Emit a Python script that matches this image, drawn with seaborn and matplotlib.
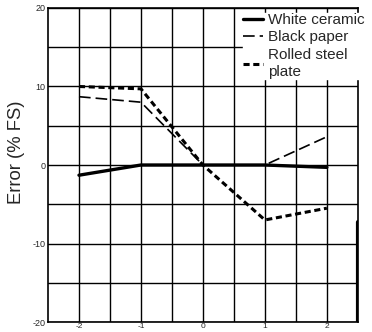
import matplotlib
matplotlib.use("Agg")
import matplotlib.pyplot as plt
import seaborn as sns
import pandas as pd

x_vals = [-2, -1, 0, 1, 2]
white_ceramic = [-1.3, 0.0, 0.0, 0.0, -0.3]
black_paper = [8.7, 8.0, 0.0, 0.0, 3.6]
rolled_steel = [10.0, 9.7, 0.0, -7.0, -5.5]
series_names = ["White ceramic", "Black paper", "Rolled steel\nplate"]
x_ticks = [-2, -1, 0, 1, 2]
y_ticks = [-20, -10, 0, 10, 20]

sns.set_theme(style="white")
plt.rcParams['font.family'] = ['Liberation Sans', 'DejaVu Sans']

fig = plt.figure(figsize=(3.72, 3.32), dpi=100)
ax = fig.add_axes([0.129, 0.030, 0.833, 0.946])

styles = [
    dict(linewidth=2.4, linestyle="-"),
    dict(linewidth=1.2, linestyle=(0, (7, 3))),
    dict(linewidth=2.2, linestyle=(0, (2, 1.2))),
]
for name, vals, st in zip(series_names, [white_ceramic, black_paper, rolled_steel], styles):
    df = pd.DataFrame({"x": x_vals, "y": vals})
    sns.lineplot(data=df, x="x", y="y", ax=ax, color="black", label=name, **st)

ax.set_xlim(-2.5, 2.5)
ax.set_ylim(-20, 20)
ax.set_xticks(x_ticks)
ax.set_yticks(y_ticks)
ax.set_xticks([-1.5, -0.5, 0.5, 1.5], minor=True)
ax.set_yticks([-15, -5, 5, 15], minor=True)
ax.grid(True, which="both", color="black", linewidth=1.0)
ax.set_xticklabels([str(v) for v in x_ticks], fontsize=6)
ax.set_yticklabels([str(v) for v in y_ticks], fontsize=6.5)
ax.tick_params(axis="x", which="both", length=0, pad=1)
ax.tick_params(axis="y", which="both", length=0, pad=2)
ax.set_xlabel("")
ax.set_ylabel("Error (% FS)", fontsize=13.3)
ax.yaxis.set_label_coords(-0.074, 0.541)
for s in ax.spines.values():
    s.set_color("black")
    s.set_linewidth(1.2)
ax.axvline(2.5, ymin=0, ymax=0.32, color="black", linewidth=3)

leg = ax.legend(loc="upper left", bbox_to_anchor=(243 / 372, 1 - 13 / 332),
                bbox_transform=fig.transFigure, frameon=True, fontsize=11,
                handlelength=1.3, handletextpad=0.35, borderaxespad=0,
                labelspacing=0.22, borderpad=0.0)
for t in leg.get_texts():
    t.set_linespacing(1.3)
leg.get_frame().set_edgecolor("white")
leg.get_frame().set_facecolor("white")
leg.get_frame().set_alpha(1)

fig.savefig("out.png", dpi=100)
